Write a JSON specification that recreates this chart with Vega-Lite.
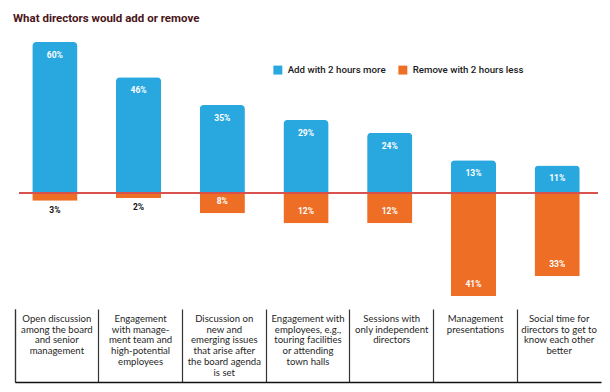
{
  "$schema": "https://vega.github.io/schema/vega-lite/v6.json",
  "width": 586,
  "height": 340,
  "autosize": {"type": "none"},
  "padding": {"left": 15, "top": 42, "right": 9, "bottom": 10},
  "background": "#ffffff",
  "title": {
    "text": "What directors would add or remove",
    "anchor": "start",
    "frame": "group",
    "dx": -2,
    "offset": 18,
    "font": "Roboto",
    "fontSize": 11.5,
    "fontWeight": "bold",
    "color": "#4a1518"
  },
  "config": {
    "view": {"stroke": null},
    "text": {"font": "Roboto"}
  },
  "datasets": {
    "bars": [
      {"item": "Open discussion|among the board|and senior|management", "series": "Add with 2 hours more", "value": 60},
      {"item": "Open discussion|among the board|and senior|management", "series": "Remove with 2 hours less", "value": -3},
      {"item": "Engagement|with manage-|ment team and|high-potential|employees", "series": "Add with 2 hours more", "value": 46},
      {"item": "Engagement|with manage-|ment team and|high-potential|employees", "series": "Remove with 2 hours less", "value": -2},
      {"item": "Discussion on|new and|emerging issues|that arise after|the board agenda|is set", "series": "Add with 2 hours more", "value": 35},
      {"item": "Discussion on|new and|emerging issues|that arise after|the board agenda|is set", "series": "Remove with 2 hours less", "value": -8},
      {"item": "Engagement with|employees, e.g.,|touring facilities|or attending|town halls", "series": "Add with 2 hours more", "value": 29},
      {"item": "Engagement with|employees, e.g.,|touring facilities|or attending|town halls", "series": "Remove with 2 hours less", "value": -12},
      {"item": "Sessions with|only independent|directors", "series": "Add with 2 hours more", "value": 24},
      {"item": "Sessions with|only independent|directors", "series": "Remove with 2 hours less", "value": -12},
      {"item": "Management|presentations", "series": "Add with 2 hours more", "value": 13},
      {"item": "Management|presentations", "series": "Remove with 2 hours less", "value": -41},
      {"item": "Social time for|directors to get to|know each other|better", "series": "Add with 2 hours more", "value": 11},
      {"item": "Social time for|directors to get to|know each other|better", "series": "Remove with 2 hours less", "value": -33}
    ]
  },
  "data": {"name": "bars"},
  "transform": [
    {"calculate": "abs(datum.value) + '%'", "as": "label"}
  ],
  "encoding": {
    "x": {
      "field": "item",
      "type": "nominal",
      "sort": null,
      "scale": {"paddingInner": 0, "paddingOuter": 0},
      "axis": {
        "title": null,
        "labels": false,
        "bandPosition": 0,
        "tickExtra": true,
        "tickSize": -73,
        "tickColor": "#333333",
        "tickWidth": 1.2,
        "domainColor": "#111111",
        "domainWidth": 1.5,
        "grid": false
      }
    }
  },
  "layer": [
    {
      "mark": {"type": "bar", "width": {"band": 0.54}, "cornerRadiusEnd": 4, "xOffset": -2},
      "encoding": {
        "y": {
          "field": "value",
          "type": "quantitative",
          "scale": {"domain": [-75, 60], "nice": false},
          "axis": null
        },
        "color": {
          "field": "series",
          "type": "nominal",
          "scale": {
            "domain": ["Add with 2 hours more", "Remove with 2 hours less"],
            "range": ["#29a8e0", "#ee6e25"]
          },
          "legend": {
            "orient": "none",
            "legendX": 258,
            "legendY": 23,
            "direction": "horizontal",
            "title": null,
            "symbolType": "square",
            "symbolSize": 80,
            "symbolStrokeWidth": 0,
            "labelFont": "Roboto",
            "labelFontSize": 9.7,
            "labelFontWeight": 500,
            "labelColor": "#1a1a1a",
            "columnPadding": 12,
            "labelOffset": 5
          }
        }
      }
    },
    {
      "mark": {"type": "rule", "color": "#d9534f", "strokeWidth": 1},
      "encoding": {"y": {"datum": 0, "type": "quantitative"}, "x": {"value": 4}, "x2": {"value": 583}}
    },
    {
      "transform": [{"filter": "datum.value > 0"}],
      "mark": {"type": "text", "color": "#ffffff", "fontSize": 8.5, "fontWeight": "bold", "baseline": "middle", "dy": 13, "dx": -2},
      "encoding": {
        "y": {"field": "value", "type": "quantitative"},
        "text": {"field": "label"}
      }
    },
    {
      "transform": [{"filter": "datum.value <= -5"}],
      "mark": {"type": "text", "color": "#ffffff", "fontSize": 8.5, "fontWeight": "bold", "baseline": "middle", "dy": -12, "dx": -2},
      "encoding": {
        "y": {"field": "value", "type": "quantitative"},
        "text": {"field": "label"}
      }
    },
    {
      "transform": [{"filter": "datum.value < 0 && datum.value > -5"}],
      "mark": {"type": "text", "color": "#111111", "fontSize": 8.5, "fontWeight": "bold", "baseline": "middle", "dy": 9, "dx": -2},
      "encoding": {
        "y": {"field": "value", "type": "quantitative"},
        "text": {"field": "label"}
      }
    },
    {
      "transform": [{"filter": "datum.value > 0"}],
      "mark": {"type": "text", "color": "#1f1f1f", "font": "Lato", "fontSize": 9.6, "lineHeight": 10.7, "lineBreak": "|", "baseline": "top", "align": "center"},
      "encoding": {
        "y": {"datum": -48.0, "type": "quantitative"},
        "text": {"field": "item"}
      }
    }
  ]
}
